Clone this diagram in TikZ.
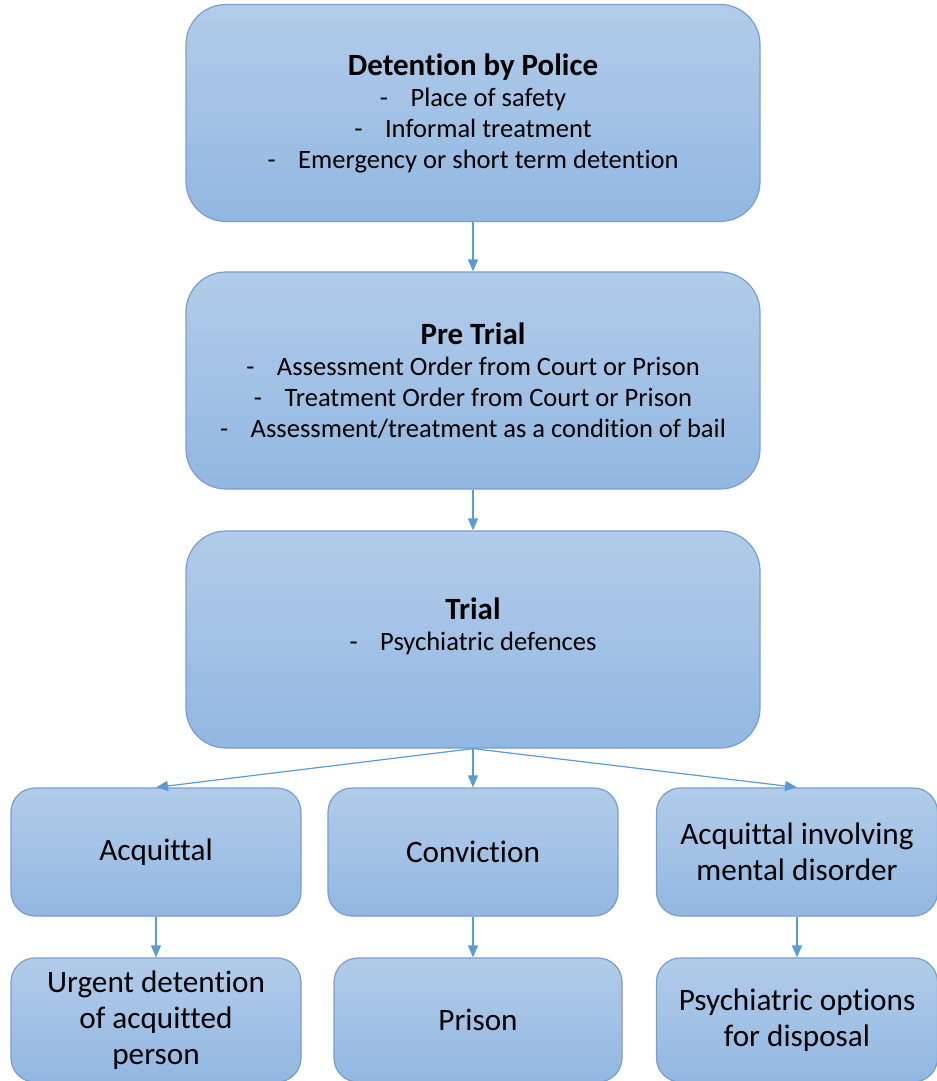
\documentclass[tikz,border=0pt]{standalone}
\usepackage{fontspec}
\setmainfont[Ligatures=NoCommon]{Carlito}
\usetikzlibrary{arrows.meta}
\definecolor{boxtop}{RGB}{178,204,234}
\definecolor{boxbot}{RGB}{146,183,225}
\definecolor{boxline}{RGB}{122,158,204}
\definecolor{arrowblue}{RGB}{91,155,213}
\tikzset{
  stage/.style={draw=boxline, line width=0.9pt, top color=boxtop, bottom color=boxbot,
    rounded corners=30pt, minimum width=430.5pt, minimum height=162.75pt,
    align=center, inner sep=0pt, font=\fontsize{19.9}{23.25}\selectfont},
  outcome/.style={draw=boxline, line width=0.9pt, top color=boxtop, bottom color=boxbot,
    rounded corners=18pt, minimum width=217.5pt, minimum height=96pt,
    align=center, inner sep=0pt, font=\fontsize{23.4}{27}\selectfont},
  flow/.style={arrowblue, line width=0.9pt, -{Triangle[width=7.5pt,length=9pt]}}
}
\newcommand{\stagetitle}[1]{{\fontsize{23.2}{24}\selectfont\bfseries #1}}
\newcommand{\dashitem}[1]{-\hspace{0.85em}#1}
\begin{document}
\begin{tikzpicture}[x=0.75pt,y=-0.75pt]
  \useasboundingbox (0,0) rectangle (937,1081);
  \node[stage] (police) at (473,113) {\stagetitle{Detention by Police}\\
    \dashitem{Place of safety}\\ \dashitem{Informal treatment}\\
    \dashitem{Emergency or short term detention}};
  \node[stage] (pretrial) at (473,380.5) {\stagetitle{Pre Trial}\\
    \dashitem{Assessment Order from Court or Prison}\\
    \dashitem{Treatment Order from Court or Prison}\\
    \dashitem{Assessment/treatment as a condition of bail}};
  \node[stage] (trial) at (473,639.5) {\stagetitle{Trial}\\
    \dashitem{Psychiatric defences}\\ \mbox{}};
  % verdicts
  \node[outcome] (acquit) at (156,852) {Acquittal};
  \node[outcome] (convict) at (473,852) {Conviction};
  \node[outcome, minimum width=210.75pt] (mental) at (797,852) {Acquittal involving\\ mental disorder};
  % disposals
  \node[outcome, minimum height=93pt] (urgent) at (156,1020) {Urgent detention\\ of acquitted\\ person};
  \node[outcome, minimum width=216pt, minimum height=93pt] (prison) at (478,1020) {Prison};
  \node[outcome, minimum width=210.75pt, minimum height=93pt] (options) at (797,1020) {Psychiatric options\\ for disposal};
  \draw[flow] (police) -- (pretrial);
  \draw[flow] (pretrial) -- (trial);
  \draw[flow] (trial.south) -- (acquit.north);
  \draw[flow] (trial.south) -- (convict.north);
  \draw[flow] (trial.south) -- (mental.north);
  \draw[flow] (acquit) -- (urgent);
  \draw[flow] (convict.south) -- (convict.south |- prison.north);
  \draw[flow] (mental) -- (options);
\end{tikzpicture}
\end{document}
